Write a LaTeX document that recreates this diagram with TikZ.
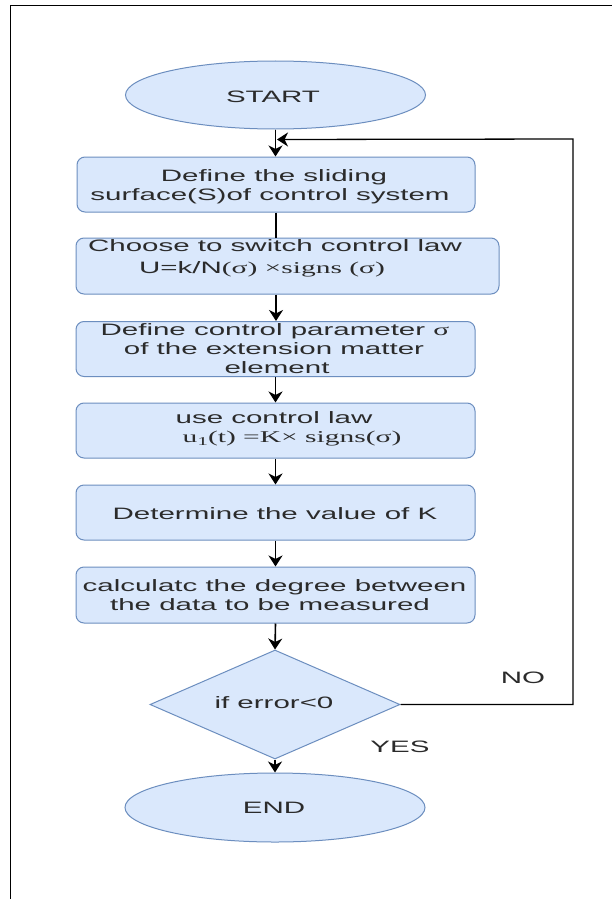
\documentclass[tikz,border=0pt]{standalone}
\usepackage{fontspec}
\newfontfamily\sansx[FakeStretch=1.788]{Liberation Sans}
\newfontfamily\serifx[FakeStretch=1.788]{Liberation Serif}
\usetikzlibrary{shapes.geometric,arrows.meta}
\definecolor{boxfill}{HTML}{DAE8FC}
\definecolor{boxline}{HTML}{6C8EBF}
\definecolor{ink}{HTML}{2B2B2B}

\begin{document}
\begin{tikzpicture}[x=1pt,y=-1pt,
  txt/.style={font=\sansx\fontsize{16.5}{19}\selectfont, text=ink, inner sep=0pt, anchor=base},
  shapebase/.style={draw=boxline, fill=boxfill, line width=1pt, inner sep=0pt},
  proc/.style={shapebase, rectangle, rounded corners=8pt, minimum width=399pt, minimum height=55pt},
  term/.style={shapebase, ellipse, minimum width=300pt, minimum height=68pt},
  cond/.style={shapebase, diamond, minimum width=250pt, minimum height=109pt},
  flow/.style={line width=1.6pt, -{Stealth[length=11pt,width=14pt,inset=3.5pt]}},
  plainline/.style={line width=1.6pt},
  frame/.style={line width=1.3pt}]

\useasboundingbox (0,0) rectangle (612,899);
\fill[white] (0,0) rectangle (612,899);
\draw[frame] (10.5,899) -- (10.5,5.5) -- (612,5.5);

% shapes
\node[term] (start) at (275.5,95) {};
\node[proc, minimum width=398pt] (s1) at (276,184.5) {};
\node[proc, minimum width=423pt, minimum height=56pt] (s2) at (287.5,266) {};
\node[proc] (s3) at (275.5,349) {};
\node[proc] (s4) at (275.5,430.5) {};
\node[proc] (s5) at (275.5,512.5) {};
\node[proc, minimum height=56pt] (s6) at (275.5,595) {};
\node[cond] (cond) at (275,704.5) {};
\node[term, minimum height=69pt] (stop) at (275,807.5) {};

% texts
\node[txt] (startt) at (273,102) {START};
\node[txt] (s1a) at (274,181.7) {Define the sliding};
\node[txt] (s1b) at (270,200.7) {surface(S)of control system};
\node[txt] (s2a) at (275,251.7) {Choose to switch control law};
\node[txt] (s2b) at (262,273.3) {U=k/N{\serifx(σ) ×signs (σ)}};
\node[txt] (s3a) at (275,335) {Define control parameter {\serifx σ}};
\node[txt] (s3b) at (274,354) {of the extension matter};
\node[txt] (s3c) at (277,373.3) {element};
\node[txt] (s4a) at (274,423.3) {use control law};
\node[txt] (s4b) at (292,442.7) {\serifx u\raisebox{-3pt}{\fontsize{12}{12}\selectfont 1}(t) =K× signs(σ)};
\node[txt] (s5a) at (275,519.3) {Determine the value of K};
\node[txt] (s6a) at (274.5,591.7) {calculatc the degree between};
\node[txt] (s6b) at (270,610) {the data to be measured};
\node[txt] (condt) at (274,708.3) {if error<0};
\node[txt] (no) at (523,683.3) {NO};
\node[txt] (yes) at (400,752.3) {YES};
\node[txt] (stopt) at (274,813.3) {END};

% connectors
\draw[flow] (start.south) -- (start.south |- s1.north);
\draw[plainline] (s1.south) -- (s1.south |- s2.north);
\draw[flow] (s1.south |- s2.south) -- (s1.south |- s3.north);
\draw[flow] (s3.south) -- (s4.north);
\draw[flow] (s4.south) -- (s5.north);
\draw[flow] (s5.south) -- (s6.north);
\draw[flow] (s6.south) -- (cond.north);
\draw[flow] (cond.south) -- (stop.north);

% feedback loop for the NO branch
\coordinate (fbin) at ([xshift=1.5pt,yshift=-10pt]start.south);
\coordinate (fbc) at (573,139);
\draw[flow, line width=1.3pt] (cond.east) -| (fbc) -- (fbin);
\end{tikzpicture}
\end{document}
